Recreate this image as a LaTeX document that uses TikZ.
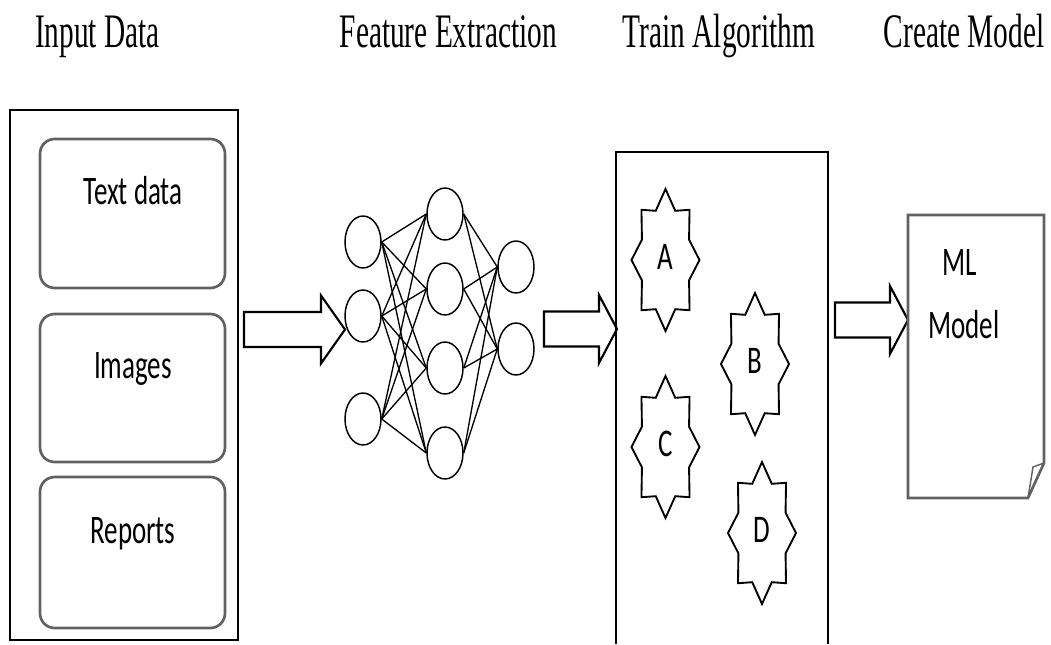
\documentclass[tikz,border=0pt]{standalone}
\usepackage{fontspec}
\setmainfont{Liberation Serif}
\newfontfamily\labelfont{Carlito}
\usepackage{graphicx}
\usetikzlibrary{shapes.geometric, calc}

% text in the reference is stretched upwards
\newcommand{\tall}[2][1.5]{\scalebox{1}[#1]{#2}}

% block arrow: shaft start, head start, tip, middle y
\newcommand{\fatarrow}[4]{%
  \draw[fatarrow] (#1,#4-17.5) -- (#2,#4-17.5) -- (#2,#4-34) -- (#3,#4)
    -- (#2,#4+34) -- (#2,#4+17.5) -- (#1,#4+17.5) -- cycle;}

% eight-point star with its letter: name, x, y, letter
\newcommand{\algostar}[4]{%
  \draw[starline] ({#2+34},#3) \foreach \k in {1,...,15}{
      -- ({#2+34*(1-0.25*mod(\k,2))*cos(\k*22.5)},{#3+71*(1-0.25*mod(\k,2))*sin(\k*22.5)})}
    -- cycle;
  \node[boxtext] (#1) at (#2,#3+9) {\tall[1.45]{#4}};}

\begin{document}
\begin{tikzpicture}[
    x=0.75pt, y=-0.75pt,
    title/.style={anchor=base, inner sep=0pt, font=\fontsize{22}{26}\selectfont},
    boxtext/.style={anchor=base, inner sep=0pt,
                    font=\labelfont\fontsize{20.25}{24}\selectfont},
    outer/.style={draw, line width=1.3pt},
    source/.style={draw=black!62, line width=2pt, rounded corners=11pt},
    neuron/.style={draw, ellipse, minimum width=27pt, minimum height=39pt,
                   inner sep=0pt, line width=1.1pt},
    link/.style={line width=1pt},
    fatarrow/.style={draw, line width=1.6pt, line join=miter},
    starline/.style={draw, line width=1.4pt, line join=miter},
    doc/.style={draw=black!62, line width=2pt}
  ]
  \useasboundingbox (0,0) rectangle (1051,644);

  % column titles
  \node[title] (tinput) at (97.5,47) {\tall[1.64]{Input Data}};
  \node[title] (tfeat)  at (448.5,47) {\tall[1.64]{Feature Extraction}};
  \node[title] (ttrain) at (719,47) {\tall[1.64]{Train Algorithm}};
  \node[title] (tmodel) at (964,47) {\tall[1.64]{Create Model}};

  % input data
  \draw[outer] (10,110) rectangle (238,640);
  \draw[source] (40,139) rectangle (225,288);
  \draw[source] (40,314) rectangle (225,462);
  \draw[source] (40,477) rectangle (225,628);
  \node[boxtext] (text) at (133,204) {\tall{Text data}};
  \node[boxtext] (images) at (133,378) {\tall{Images}};
  \node[boxtext] (reports) at (133,543) {\tall{Reports}};

  \fatarrow{244}{321}{345}{329.5}

  % feature extraction network
  \foreach \n/\y in {1/242,2/316,3/419}
    \node[neuron] (in\n) at (363,\y) {};
  \foreach \n/\y in {1/214,2/289,3/368,4/453}
    \node[neuron] (hid\n) at (445,\y) {};
  \foreach \n/\y in {1/267,2/349}
    \node[neuron] (out\n) at (516,\y) {};
  \foreach \i in {1,2,3}
    \foreach \j in {1,...,4}
      \draw[link] (in\i.east) -- (hid\j.west);
  \foreach \j in {1,...,4}
    \foreach \k in {1,2}
      \draw[link] (hid\j.east) -- (out\k.west);

  \fatarrow{544}{599}{617}{329}

  % training
  \draw[outer] (616,644) |- (828,152) -- (828,644);
  \algostar{algA}{665.5}{260}{A}
  \algostar{algB}{755}{364}{B}
  \algostar{algC}{665.5}{447}{C}
  \algostar{algD}{762}{533}{D}

  \fatarrow{835}{890}{908}{320}

  % model
  \draw[doc] (908,215) -- (1044,215) -- (1044,463) -- (1028,498)
    -- (908,498) -- cycle;
  \draw[doc, line width=1.1pt] (1044,463) -- (1033,467) -- (1028,498);
  \node[boxtext] (ml) at (960,275) {\tall{ML}};
  \node[boxtext] (model) at (964,338) {\tall{Model}};
\end{tikzpicture}
\end{document}
